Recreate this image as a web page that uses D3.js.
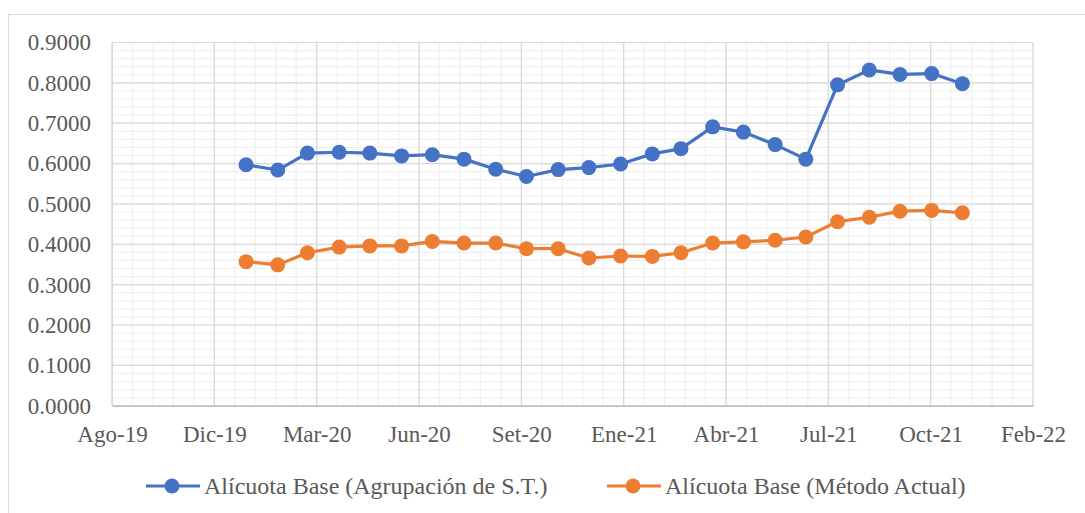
<!DOCTYPE html>
<html>
<head>
<meta charset="utf-8">
<script src="https://cdn.jsdelivr.net/npm/d3@7"></script>
<style>
  body { margin: 0; background: #fff; }
  svg text { font-family: "Liberation Serif", "Times New Roman", serif; fill: #595959; }
</style>
</head>
<body>
<div id="chart"></div>
<script>
// monthly observations (first day of each month)
const months = [
  "2020-01-01","2020-02-01","2020-03-01","2020-04-01","2020-05-01","2020-06-01",
  "2020-07-01","2020-08-01","2020-09-01","2020-10-01","2020-11-01","2020-12-01",
  "2021-01-01","2021-02-01","2021-03-01","2021-04-01","2021-05-01","2021-06-01",
  "2021-07-01","2021-08-01","2021-09-01","2021-10-01","2021-11-01","2021-12-01"
];
const agrupacion = [
  0.597, 0.584, 0.626, 0.628, 0.626, 0.619, 0.622, 0.611, 0.586, 0.568, 0.585, 0.590,
  0.599, 0.624, 0.637, 0.691, 0.678, 0.647, 0.611, 0.795, 0.832, 0.821, 0.823, 0.798
];
const actual = [
  0.357, 0.349, 0.379, 0.393, 0.396, 0.396, 0.407, 0.403, 0.403, 0.389, 0.389, 0.366,
  0.371, 0.370, 0.379, 0.403, 0.406, 0.410, 0.418, 0.456, 0.467, 0.482, 0.484, 0.478
];
const seriesNames = ["Alícuota Base (Agrupación de S.T.)", "Alícuota Base (Método Actual)"];
const seriesColors = ["#4472C4", "#ED7D31"];

// axis: starts 2019-08-23, major unit 100 days, minor 20 days
const axisStart = "2019-08-23";
const axisDays = 900;
const majorDays = 100;
const minorDays = 20;
const xTickLabels = ["Ago-19","Dic-19","Mar-20","Jun-20","Set-20","Ene-21","Abr-21","Jul-21","Oct-21","Feb-22"];
const yTicks = [0, 0.1, 0.2, 0.3, 0.4, 0.5, 0.6, 0.7, 0.8, 0.9];

const width = 1085, height = 513;
const plot = { left: 112, right: 1033, top: 42.5, bottom: 405.7 };
const DAY = 86400000;
const serif = "'Liberation Serif', 'Times New Roman', serif";

const svg = d3.select("#chart").append("svg")
  .attr("width", width)
  .attr("height", height);

// outer chart frame
svg.append("rect")
  .attr("x", 8.5).attr("y", 14.5)
  .attr("width", 1090).attr("height", 520)
  .attr("fill", "#fff")
  .attr("stroke", "#d9d9d9");

const t0 = new Date(axisStart + "T00:00:00Z");
const t1 = new Date(t0.getTime() + axisDays * DAY);

const x = d3.scaleUtc().domain([t0, t1]).range([plot.left, plot.right]);
const y = d3.scaleLinear().domain([0, 0.9]).range([plot.bottom, plot.top]);

const majorX = d3.range(0, axisDays + 1, majorDays).map(d => new Date(t0.getTime() + d * DAY));
const minorX = d3.range(0, axisDays + 1, minorDays).map(d => new Date(t0.getTime() + d * DAY));
const minorY = d3.range(0, 0.9001, 0.02);

const grid = svg.append("g");

// minor gridlines
grid.selectAll(".mx").data(minorX).enter().append("line")
  .attr("x1", d => x(d)).attr("x2", d => x(d))
  .attr("y1", plot.top).attr("y2", plot.bottom)
  .attr("stroke", "#f0f0f0").attr("stroke-width", 1.2);
grid.selectAll(".my").data(minorY).enter().append("line")
  .attr("x1", plot.left).attr("x2", plot.right)
  .attr("y1", d => y(d)).attr("y2", d => y(d))
  .attr("stroke", "#f0f0f0").attr("stroke-width", 1.2);

// major gridlines
grid.selectAll(".Mx").data(majorX).enter().append("line")
  .attr("x1", d => x(d)).attr("x2", d => x(d))
  .attr("y1", plot.top).attr("y2", plot.bottom)
  .attr("stroke", "#d9d9d9").attr("stroke-width", 1.2);
grid.selectAll(".My").data(yTicks).enter().append("line")
  .attr("x1", plot.left).attr("x2", plot.right)
  .attr("y1", d => y(d)).attr("y2", d => y(d))
  .attr("stroke", "#d9d9d9").attr("stroke-width", 1.2);

// axes
const xAxis = svg.append("g")
  .attr("transform", `translate(0,${plot.bottom})`)
  .call(d3.axisBottom(x).tickValues(majorX).tickSize(0).tickPadding(20)
    .tickFormat((d, i) => xTickLabels[i]));
xAxis.attr("font-family", serif);
xAxis.select(".domain").attr("stroke", "#bfbfbf").attr("stroke-width", 1.5);
xAxis.selectAll("text").attr("font-size", 23).attr("dy", "0.71em")
  .style("font-family", serif).attr("fill", "#595959");

const yAxis = svg.append("g")
  .attr("transform", `translate(${plot.left},0)`)
  .call(d3.axisLeft(y).tickValues(yTicks).tickSize(0).tickPadding(21)
    .tickFormat(d3.format(".4f")));
yAxis.attr("font-family", serif);
yAxis.select(".domain").attr("stroke", "#d9d9d9").attr("stroke-width", 1.2);
yAxis.selectAll("text").attr("font-size", 23)
  .style("font-family", serif).attr("fill", "#595959");

// series
const dates = months.map(m => new Date(m + "T00:00:00Z"));
const series = [agrupacion, actual];
const line = d3.line().x(d => x(d[0])).y(d => y(d[1]));

series.forEach((vals, k) => {
  const pts = vals.map((v, i) => [dates[i], v]);
  svg.append("path")
    .datum(pts)
    .attr("fill", "none")
    .attr("stroke", seriesColors[k])
    .attr("stroke-width", 3.2)
    .attr("stroke-linejoin", "round")
    .attr("d", line);
  svg.append("g").selectAll("circle")
    .data(pts).enter().append("circle")
    .attr("cx", d => x(d[0]))
    .attr("cy", d => y(d[1]))
    .attr("r", 7.5)
    .attr("fill", seriesColors[k]);
});

// legend
const legendX = [146, 607];
const legend = svg.append("g").attr("transform", "translate(0,486)");
seriesNames.forEach((name, k) => {
  const g = legend.append("g").attr("transform", `translate(${legendX[k]},0)`);
  g.append("line")
    .attr("x1", 0).attr("x2", 54)
    .attr("stroke", seriesColors[k]).attr("stroke-width", 3.2);
  g.append("circle").attr("cx", 26).attr("r", 7.5).attr("fill", seriesColors[k]);
  g.append("text")
    .attr("x", 58).attr("y", 7.5)
    .attr("font-size", 24)
    .style("font-family", serif)
    .text(name);
});
</script>
</body>
</html>
